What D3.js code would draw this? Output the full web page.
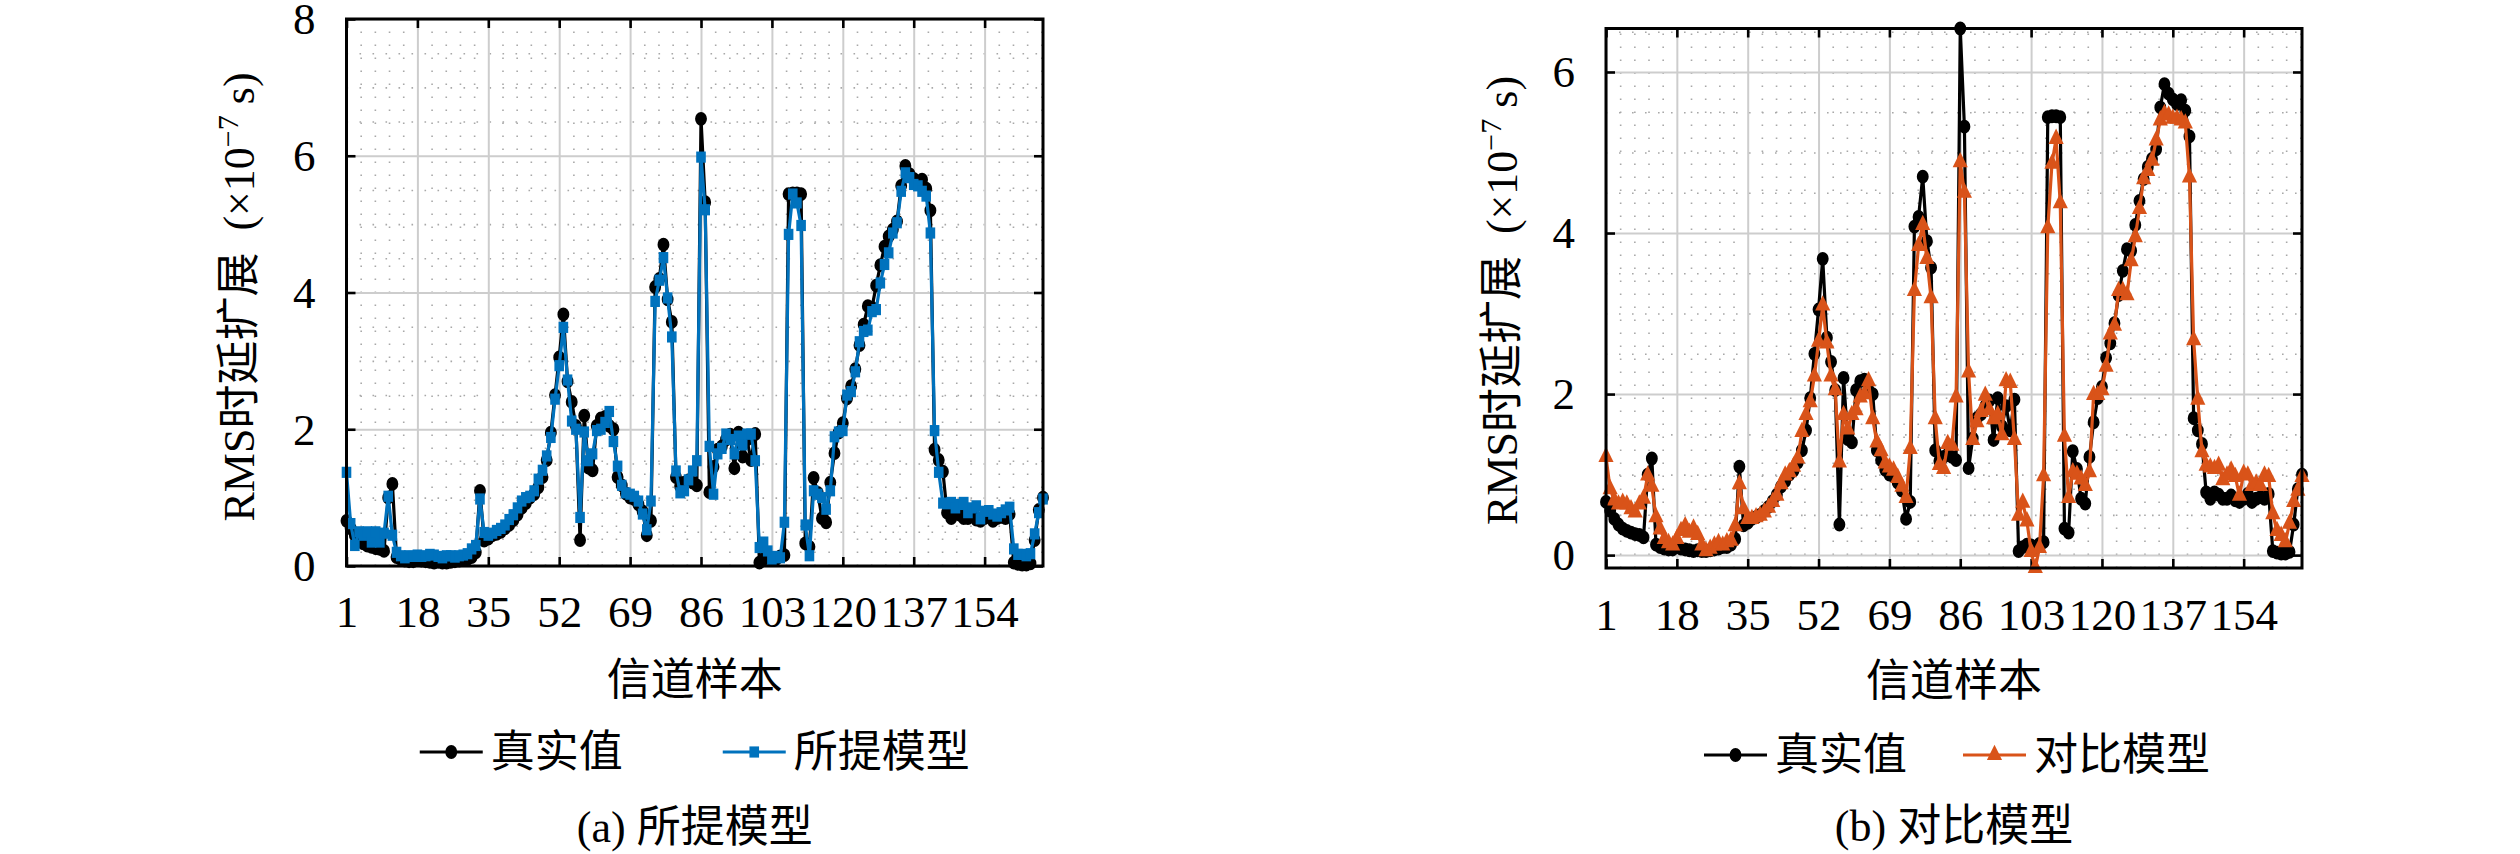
<!DOCTYPE html>
<html>
<head>
<meta charset="utf-8">
<script src="https://cdn.jsdelivr.net/npm/d3@7"></script>
<style>
  html, body { margin: 0; padding: 0; background: #fff; }
  svg { display: block; }
</style>
</head>
<body>
<svg id="chart"></svg>
<script>
// ---- data (168 channel samples) ----
const samples = d3.range(1, 169)

const xTicks = [1, 18, 35, 52, 69, 86, 103, 120, 137, 154]
const yTicksLeft = [0, 2, 4, 6, 8]
const yTicksRight = [0, 2, 4, 6]

// 真实值 (measured RMS delay spread, x1e-7 s)
const truth = [
  0.66, 0.55, 0.45, 0.38, 0.33, 0.30, 0.28, 0.26, 0.25, 0.22,   // 1-10
  1.00, 1.20, 0.13, 0.10, 0.08, 0.07, 0.07, 0.10, 0.08, 0.07,   // 11-20
  0.06, 0.05, 0.06, 0.05, 0.05, 0.06, 0.07, 0.08, 0.10, 0.10,   // 21-30
  0.13, 0.20, 1.10, 0.37, 0.40, 0.45, 0.47, 0.50, 0.55, 0.60,   // 31-40
  0.67, 0.75, 0.85, 0.92, 1.00, 1.05, 1.15, 1.30, 1.55, 1.95,   // 41-50
  2.50, 3.05, 3.68, 2.70, 2.40, 2.05, 0.38, 2.20, 1.44, 1.40,   // 51-60
  2.05, 2.16, 2.18, 2.05, 2.00, 1.30, 1.18, 1.06, 1.00, 0.98,   // 61-70
  0.90, 0.80, 0.45, 0.66, 4.08, 4.20, 4.70, 3.90, 3.57, 1.30,   // 71-80
  1.17, 1.22, 1.25, 1.22, 1.18, 6.54, 5.32, 1.08, 1.45, 1.70,   // 81-90
  1.75, 1.85, 1.92, 1.43, 1.95, 1.60, 1.85, 1.55, 1.93, 0.05,   // 91-100
  0.10, 0.13, 0.12, 0.10, 0.14, 0.16, 5.44, 5.45, 5.45, 5.44,   // 101-110
  0.33, 0.28, 1.29, 1.07, 0.70, 0.64, 1.22, 1.65, 1.95, 2.09,   // 111-120
  2.45, 2.63, 2.88, 3.23, 3.53, 3.80, 3.78, 4.10, 4.40, 4.67,   // 121-130
  4.82, 4.92, 5.04, 5.56, 5.85, 5.73, 5.66, 5.60, 5.65, 5.52,   // 131-140
  5.20, 1.70, 1.55, 1.38, 0.78, 0.70, 0.78, 0.75, 0.70, 0.70,   // 141-150
  0.74, 0.68, 0.66, 0.70, 0.76, 0.66, 0.70, 0.72, 0.70, 0.76,   // 151-160
  0.05, 0.03, 0.02, 0.02, 0.04, 0.38, 0.82, 1.00                // 161-168
]

// 所提模型 (proposed model)
const proposed = [
  1.37, 0.62, 0.30, 0.50, 0.45, 0.50, 0.35, 0.50, 0.35, 0.48,
  1.02, 0.45, 0.20, 0.15, 0.12, 0.15, 0.14, 0.16, 0.14, 0.15,
  0.17, 0.16, 0.14, 0.12, 0.15, 0.15, 0.13, 0.15, 0.16, 0.18,
  0.25, 0.30, 0.98, 0.49, 0.45, 0.48, 0.52, 0.55, 0.60, 0.68,
  0.75, 0.85, 0.95, 1.00, 1.02, 1.10, 1.27, 1.40, 1.61, 1.88,
  2.44, 2.93, 3.49, 2.72, 2.12, 2.00, 0.71, 1.96, 1.54, 1.64,
  1.98, 2.00, 2.10, 2.26, 1.82, 1.46, 1.18, 1.07, 1.05, 1.02,
  0.95, 0.76, 0.53, 0.95, 3.87, 4.18, 4.51, 3.92, 3.35, 1.39,
  1.07, 1.10, 1.26, 1.39, 1.54, 5.98, 5.21, 1.75, 1.05, 1.64,
  1.72, 1.93, 1.85, 1.64, 1.90, 1.77, 1.93, 1.93, 1.54, 0.27,
  0.35, 0.22, 0.09, 0.14, 0.12, 0.64, 4.85, 5.44, 5.31, 4.98,
  0.60, 0.15, 1.10, 1.05, 1.00, 0.83, 1.10, 1.89, 1.96, 1.98,
  2.50, 2.55, 2.84, 3.28, 3.43, 3.45, 3.72, 3.75, 4.14, 4.41,
  4.58, 4.87, 5.02, 5.48, 5.75, 5.68, 5.58, 5.56, 5.48, 5.41,
  4.87, 1.98, 1.37, 0.92, 0.91, 0.93, 0.85, 0.90, 0.93, 0.78,
  0.85, 0.88, 0.69, 0.80, 0.81, 0.76, 0.73, 0.78, 0.82, 0.86,
  0.25, 0.17, 0.17, 0.15, 0.18, 0.47, 0.78, 0.98
]

// 对比模型 (comparison model)
const comparison = [
  1.22, 0.82, 0.68, 0.63, 0.65, 0.63, 0.57, 0.53, 0.63, 0.70,
  0.99, 0.85, 0.47, 0.32, 0.20, 0.15, 0.12, 0.20, 0.30, 0.36,
  0.28, 0.33, 0.25, 0.12, 0.05, 0.08, 0.12, 0.15, 0.12, 0.16,
  0.18, 0.36, 0.88, 0.57, 0.45, 0.45, 0.47, 0.49, 0.53, 0.59,
  0.66, 0.74, 0.88, 0.99, 1.03, 1.10, 1.20, 1.53, 1.74, 1.90,
  2.22, 2.65, 3.10, 2.63, 2.22, 2.05, 1.15, 1.74, 1.56, 1.74,
  1.80, 1.96, 2.00, 2.16, 1.69, 1.40, 1.29, 1.14, 1.09, 1.05,
  0.96, 0.85, 0.71, 1.32, 3.28, 3.84, 4.10, 3.68, 3.19, 1.69,
  1.12, 1.07, 1.38, 1.36, 1.96, 4.88, 4.50, 2.27, 1.43, 1.65,
  1.78, 1.98, 1.80, 1.69, 1.74, 1.49, 2.16, 2.14, 1.43, 0.49,
  0.65, 0.42, 0.04, -0.16, 0.09, 0.98, 4.06, 4.86, 5.17, 4.37,
  1.47, 0.71, 1.03, 1.00, 0.94, 0.86, 1.03, 1.99, 1.99, 2.05,
  2.34, 2.74, 2.85, 3.28, 3.28, 3.23, 3.65, 3.95, 4.30, 4.67,
  4.77, 4.90, 5.15, 5.40, 5.48, 5.46, 5.42, 5.42, 5.40, 5.36,
  4.69, 2.67, 1.93, 1.28, 1.11, 1.09, 1.07, 1.11, 0.93, 0.99,
  1.05, 0.97, 0.74, 1.01, 0.99, 0.86, 0.89, 0.86, 0.99, 0.97,
  0.51, 0.30, 0.24, 0.16, 0.39, 0.66, 0.80, 0.97
]

// ---- page setup ----
const width = 2520
const height = 854

const numFont = "'Liberation Serif', 'DejaVu Serif', serif"
const textFont = "'Liberation Serif', 'Noto Sans CJK SC', serif"
const fontSize = 45

const truthColour = '#000000'
const proposedColour = '#0072BD'
const comparisonColour = '#D95319'

const svg = d3.select('#chart')
  .attr('width', width)
  .attr('height', height)
  .attr('viewBox', `0 0 ${width} ${height}`)

svg.append('rect').attr('width', width).attr('height', height).attr('fill', '#fff')

// markers are slightly narrower than tall, as in the source figure
const markers = {
  circle: d3.symbol().type(d3.symbolCircle).size(150),
  square: d3.symbol().type(d3.symbolSquare).size(125),
  triangle: d3.symbol().type(d3.symbolTriangle).size(135)
}
const markerSquash = 'scale(0.86,1)'

function drawPanel(cfg) {
  const { box } = cfg
  const w = box.x1 - box.x0
  const h = box.y1 - box.y0

  const g = svg.append('g').attr('transform', `translate(${box.x0},${box.y0})`)

  const x = d3.scaleLinear().domain([1, 168]).range([0, w])
  const y = d3.scaleLinear().domain(cfg.yDomain).range([h, 0])

  // minor grid (dotted)
  const minorX = d3.range(1, 168.01, 17 / 5).filter(v => !xTicks.some(t => Math.abs(t - v) < 1e-6))
  const minorY = d3.range(Math.ceil(cfg.yDomain[0] * 2) / 2, cfg.yDomain[1] + 1e-6, 0.5)
    .filter(v => Math.abs(v % 2) > 1e-6)

  g.append('g')
    .attr('transform', `translate(0,${h})`)
    .call(d3.axisBottom(x).tickValues(minorX).tickSize(-h).tickFormat(''))
    .call(a => a.select('.domain').remove())
    .call(a => a.selectAll('.tick line')
      .attr('stroke', '#a8a8a8')
      .attr('stroke-width', 1.6)
      .attr('stroke-dasharray', '1.6 11.4'))

  g.append('g')
    .call(d3.axisLeft(y).tickValues(minorY).tickSize(-w).tickFormat(''))
    .call(a => a.select('.domain').remove())
    .call(a => a.selectAll('.tick line')
      .attr('stroke', '#a8a8a8')
      .attr('stroke-width', 1.6)
      .attr('stroke-dasharray', '1.6 11.4'))

  // major grid
  g.append('g')
    .attr('transform', `translate(0,${h})`)
    .call(d3.axisBottom(x).tickValues(xTicks).tickSize(-h).tickFormat(''))
    .call(a => a.select('.domain').remove())
    .call(a => a.selectAll('.tick line').attr('stroke', '#cdcdcd').attr('stroke-width', 2))

  g.append('g')
    .call(d3.axisLeft(y).tickValues(cfg.yTicks).tickSize(-w).tickFormat(''))
    .call(a => a.select('.domain').remove())
    .call(a => a.selectAll('.tick line').attr('stroke', '#cdcdcd').attr('stroke-width', 2))

  // axes: ticks pointing inward on all four sides
  const tickLen = 9
  const styleTicks = a => a
    .attr('font-family', numFont)
    .attr('font-size', fontSize)
    .call(s => s.select('.domain').remove())
    .call(s => s.selectAll('.tick line').attr('stroke', '#000').attr('stroke-width', 2.6))

  g.append('g')
    .attr('transform', `translate(0,${h})`)
    .call(d3.axisBottom(x).tickValues(xTicks).tickSize(-tickLen).tickFormat(d3.format('d')))
    .call(styleTicks)
    .call(a => a.selectAll('.tick text')
      .attr('y', cfg.xLabelOffset)
      .attr('dy', '0.35em')
      .attr('fill', '#000'))

  g.append('g')
    .call(d3.axisTop(x).tickValues(xTicks).tickSize(-tickLen).tickFormat(''))
    .call(styleTicks)

  g.append('g')
    .call(d3.axisLeft(y).tickValues(cfg.yTicks).tickSize(-tickLen).tickFormat(d3.format('d')))
    .call(styleTicks)
    .call(a => a.selectAll('.tick text')
      .attr('x', -31)
      .attr('dy', '0.33em')
      .attr('fill', '#000'))

  g.append('g')
    .attr('transform', `translate(${w},0)`)
    .call(d3.axisRight(y).tickValues(cfg.yTicks).tickSize(-tickLen).tickFormat(''))
    .call(styleTicks)

  // series
  const line = d3.line().x((d, i) => x(samples[i])).y(d => y(d))

  cfg.series.forEach(s => {
    g.append('path')
      .datum(s.values)
      .attr('fill', 'none')
      .attr('stroke', s.colour)
      .attr('stroke-width', 3.2)
      .attr('stroke-linejoin', 'round')
      .attr('d', line)

    g.append('g').selectAll('path')
      .data(s.values)
      .join('path')
      .attr('transform', (d, i) => `translate(${x(samples[i])},${y(d)}) ${markerSquash}`)
      .attr('d', markers[s.marker]())
      .attr('fill', s.colour)
  })

  // frame
  g.append('rect')
    .attr('width', w)
    .attr('height', h)
    .attr('fill', 'none')
    .attr('stroke', '#000')
    .attr('stroke-width', 3)

  const cx = w / 2

  // x label
  g.append('text')
    .attr('x', cx)
    .attr('y', h + cfg.xTitleOffset)
    .attr('dy', '0.35em')
    .attr('text-anchor', 'middle')
    .attr('font-family', textFont)
    .attr('font-size', 44)
    .text('信道样本')

  // y label
  const yl = g.append('text')
    .attr('transform', `translate(${-cfg.yTitleOffset},${cfg.yTitleY}) rotate(-90)`)
    .attr('text-anchor', 'middle')
    .attr('dy', '0.35em')
    .attr('font-family', textFont)
    .attr('font-size', 44)
  yl.append('tspan').text('RMS时延扩展\u2002(×10')
  yl.append('tspan').attr('font-size', 30).attr('dy', -16).text('−7')
  yl.append('tspan').attr('dy', 16).text(' s)')

  // legend
  const legY = h + cfg.legendOffset
  cfg.series.forEach((s, k) => {
    const lx = cx + cfg.legendX[k]
    const lg = g.append('g').attr('transform', `translate(${lx},${legY})`)
    lg.append('line')
      .attr('x1', 0).attr('x2', 63)
      .attr('stroke', s.colour).attr('stroke-width', 3.2)
    lg.append('path')
      .attr('transform', `translate(31.5,0) ${markerSquash}`)
      .attr('d', markers[s.marker]())
      .attr('fill', s.colour)
    lg.append('text')
      .attr('x', 71)
      .attr('dy', '0.35em')
      .attr('font-family', textFont)
      .attr('font-size', 44)
      .text(s.name)
  })

  // caption
  g.append('text')
    .attr('x', cx)
    .attr('y', h + cfg.captionOffset)
    .attr('dy', '0.35em')
    .attr('text-anchor', 'middle')
    .attr('font-family', textFont)
    .attr('font-size', 44)
    .text(cfg.caption)
}

drawPanel({
  box: { x0: 346.5, x1: 1043, y0: 19, y1: 566 },
  yDomain: [0, 8],
  yTicks: yTicksLeft,
  xLabelOffset: 45,
  xTitleOffset: 114,
  yTitleOffset: 108,
  yTitleY: 278,
  legendOffset: 186,
  captionOffset: 261,
  legendX: [-275, 28],
  caption: '(a) 所提模型',
  series: [
    { name: '真实值', values: truth, colour: truthColour, marker: 'circle' },
    { name: '所提模型', values: proposed, colour: proposedColour, marker: 'square' }
  ]
})

drawPanel({
  box: { x0: 1606, x1: 2302, y0: 28.5, y1: 568 },
  yDomain: d3.extent(truth.concat(comparison)),
  yTicks: yTicksRight,
  xLabelOffset: 46,
  xTitleOffset: 113,
  yTitleOffset: 104,
  yTitleY: 272,
  legendOffset: 187,
  captionOffset: 258,
  legendX: [-250, 9],
  caption: '(b) 对比模型',
  series: [
    { name: '真实值', values: truth, colour: truthColour, marker: 'circle' },
    { name: '对比模型', values: comparison, colour: comparisonColour, marker: 'triangle' }
  ]
})
</script>
</body>
</html>
